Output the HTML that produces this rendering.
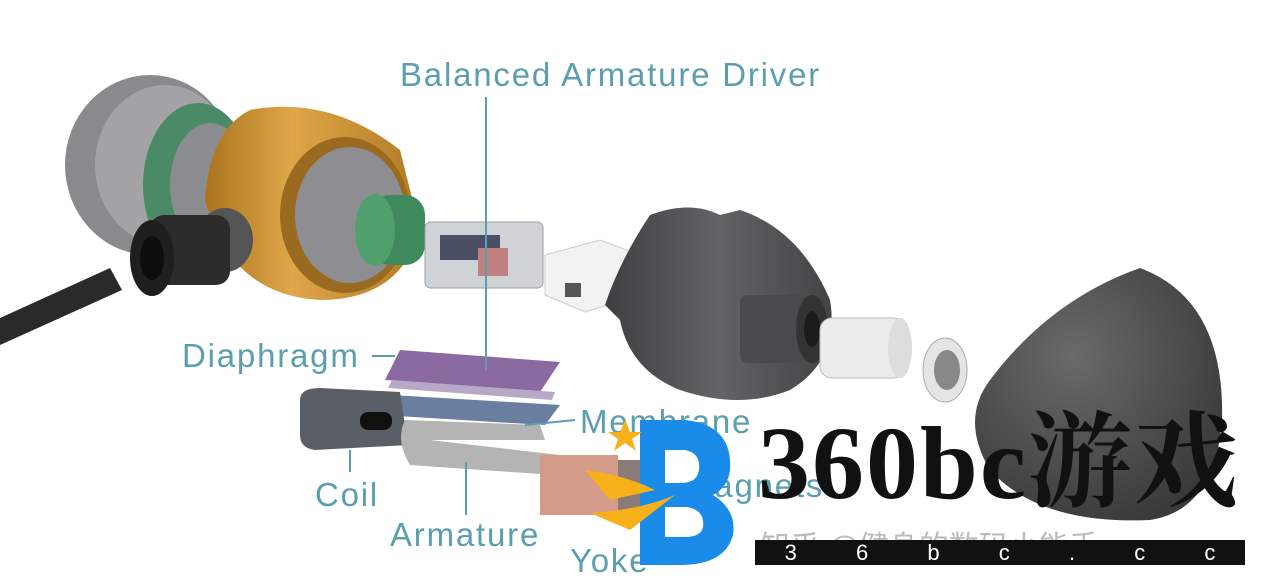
<!DOCTYPE html>
<html><head><meta charset="utf-8"><style>
html,body{margin:0;padding:0;background:#fff;}
body{width:1280px;height:587px;overflow:hidden;position:relative;font-family:"Liberation Sans",sans-serif;}
.l{position:absolute;color:#5b9eae;font-size:33px;letter-spacing:1.8px;white-space:nowrap;line-height:1;}
</style></head><body>
<svg width="1280" height="587" style="position:absolute;left:0;top:0">
<defs>
<linearGradient id="gold" x1="0" x2="1"><stop offset="0" stop-color="#a8741c"/><stop offset=".4" stop-color="#e0a648"/><stop offset="1" stop-color="#b07b25"/></linearGradient>
<linearGradient id="dk" x1="0" x2="1"><stop offset="0" stop-color="#3f3f41"/><stop offset=".5" stop-color="#636365"/><stop offset="1" stop-color="#444446"/></linearGradient>
<radialGradient id="tip" cx=".4" cy=".35" r=".7"><stop offset="0" stop-color="#6a6a6a"/><stop offset="1" stop-color="#3a3a3a"/></radialGradient>
</defs>
<path d="M0 318 L110 268 L122 290 L0 345 Z" fill="#2a2a2a"/>
<ellipse cx="150" cy="165" rx="85" ry="90" fill="#8a8a8c"/>
<ellipse cx="165" cy="165" rx="70" ry="80" fill="#a3a3a5"/>
<ellipse cx="198" cy="185" rx="55" ry="82" fill="#4b8a66"/>
<ellipse cx="210" cy="185" rx="40" ry="62" fill="#8b8c90"/>
<path d="M250 110 Q330 95 400 150 L420 230 Q400 300 320 300 Q230 295 205 200 Q210 130 250 110Z" fill="url(#gold)"/>
<ellipse cx="345" cy="215" rx="65" ry="78" fill="#9a6a20"/>
<ellipse cx="350" cy="215" rx="55" ry="68" fill="#8e8e92"/>
<ellipse cx="225" cy="240" rx="28" ry="32" fill="#555"/>
<rect x="150" y="215" width="80" height="70" rx="14" fill="#2c2c2c"/>
<ellipse cx="152" cy="258" rx="22" ry="38" fill="#1f1f1f"/>
<ellipse cx="152" cy="258" rx="12" ry="22" fill="#0d0d0d"/>
<rect x="370" y="195" width="55" height="70" rx="20" fill="#3f8a5d"/>
<ellipse cx="375" cy="230" rx="20" ry="36" fill="#4fa06d"/>
<rect x="425" y="222" width="118" height="66" rx="6" fill="#cfd3d8" stroke="#9aa0a8"/>
<rect x="440" y="235" width="60" height="25" fill="#4a4f66"/>
<rect x="478" y="248" width="30" height="28" fill="#c08080"/>
<path d="M545 255 L600 240 L640 255 L640 295 L585 312 L545 295Z" fill="#f2f2f2" stroke="#ccc"/>
<rect x="565" y="283" width="16" height="14" fill="#555"/>
<path d="M650 215 Q690 200 720 215 L740 210 Q800 230 830 300 Q840 360 790 390 Q740 410 680 390 Q630 370 620 320 L605 305 Q620 260 650 215Z" fill="url(#dk)"/>
<rect x="740" y="295" width="75" height="68" rx="8" fill="#4a4a4c"/>
<ellipse cx="812" cy="329" rx="16" ry="34" fill="#333"/>
<ellipse cx="812" cy="329" rx="8" ry="18" fill="#1c1c1c"/>
<rect x="820" y="318" width="85" height="60" rx="12" fill="#ececec" stroke="#bbb"/>
<ellipse cx="900" cy="348" rx="12" ry="30" fill="#ddd"/>
<ellipse cx="945" cy="370" rx="22" ry="32" fill="#e4e4e4" stroke="#aaa"/>
<ellipse cx="947" cy="370" rx="13" ry="20" fill="#888"/>
<path d="M1140 268 Q1225 300 1222 420 Q1215 510 1150 520 Q1040 525 990 470 Q960 420 990 380 Q1050 300 1140 268Z" fill="url(#tip)"/>
<path d="M400 350 L560 362 L540 392 L385 380Z" fill="#8a6aa0"/>
<path d="M392 380 L555 392 L552 400 L388 388Z" fill="#b8a8c8"/>
<path d="M392 395 L560 405 L545 425 L380 415Z" fill="#6a7ea0"/>
<path d="M300 400 Q300 388 320 388 L400 392 L408 445 L315 450 Q300 448 300 435Z" fill="#5a5e66"/>
<rect x="360" y="412" width="32" height="18" rx="8" fill="#111"/>
<path d="M405 420 L540 425 L545 440 L430 440 L560 455 L555 475 L410 465 Q395 440 405 420Z" fill="#b4b4b4"/>
<rect x="540" y="455" width="78" height="60" fill="#d49a8a"/>
<rect x="618" y="460" width="25" height="55" fill="#8a7a78"/>
<g stroke="#5b9eae" stroke-width="2" fill="none">
<line x1="486" y1="97" x2="486" y2="370"/>
<line x1="372" y1="356" x2="395" y2="356"/>
<line x1="350" y1="450" x2="350" y2="472"/>
<line x1="466" y1="462" x2="466" y2="515"/>
<line x1="525" y1="425" x2="575" y2="420"/>
</g>
</svg>
<div class="l" style="left:400px;top:58px">Balanced Armature Driver</div>
<div class="l" style="left:182px;top:339px">Diaphragm</div>
<div class="l" style="left:580px;top:405px">Membrane</div>
<div class="l" style="left:685px;top:469px">Magnets</div>
<div class="l" style="left:315px;top:478px">Coil</div>
<div class="l" style="left:390px;top:518px">Armature</div>
<div class="l" style="left:570px;top:544px">Yoke</div>
<div style="position:absolute;left:760px;top:522px;font-family:'Liberation Sans','Noto Sans CJK SC',sans-serif;font-size:30px;color:#bbb;white-space:nowrap">知乎 @健身的数码小能手</div>
<svg width="160" height="160" style="position:absolute;left:585px;top:415px">
<path d="M55 5 L100 5 Q148 10 145 55 Q143 72 128 80 Q152 95 148 120 Q140 150 95 150 L55 150Z" fill="#1a8be8"/>
<path d="M80 35 L100 35 Q116 38 114 55 Q112 68 96 68 L80 68Z M80 92 L102 92 Q120 95 118 112 Q116 122 100 122 L80 122Z" fill="#fff"/>
<path d="M0 55 Q40 60 70 75 L25 85Z" fill="#f5b01a"/>
<path d="M5 98 Q55 95 90 80 L45 115Z" fill="#f5b01a"/>
<polygon points="40,5 45,17 57,17 47,24 51,36 40,28 29,36 33,24 23,17 35,17" fill="#f5b01a"/>
</svg>
<div style="position:absolute;left:758px;top:412px;font-family:'Liberation Serif','Noto Serif CJK SC',serif;font-weight:bold;font-size:104px;letter-spacing:2px;line-height:1;color:#111;white-space:nowrap">360bc游戏</div>
<div style="position:absolute;left:755px;top:540px;width:490px;height:25px;background:#111;color:#fff;font-size:22px;line-height:25px;display:flex;justify-content:space-around">
<span>3</span><span>6</span><span>b</span><span>c</span><span>.</span><span>c</span><span>c</span></div>
</body></html>
